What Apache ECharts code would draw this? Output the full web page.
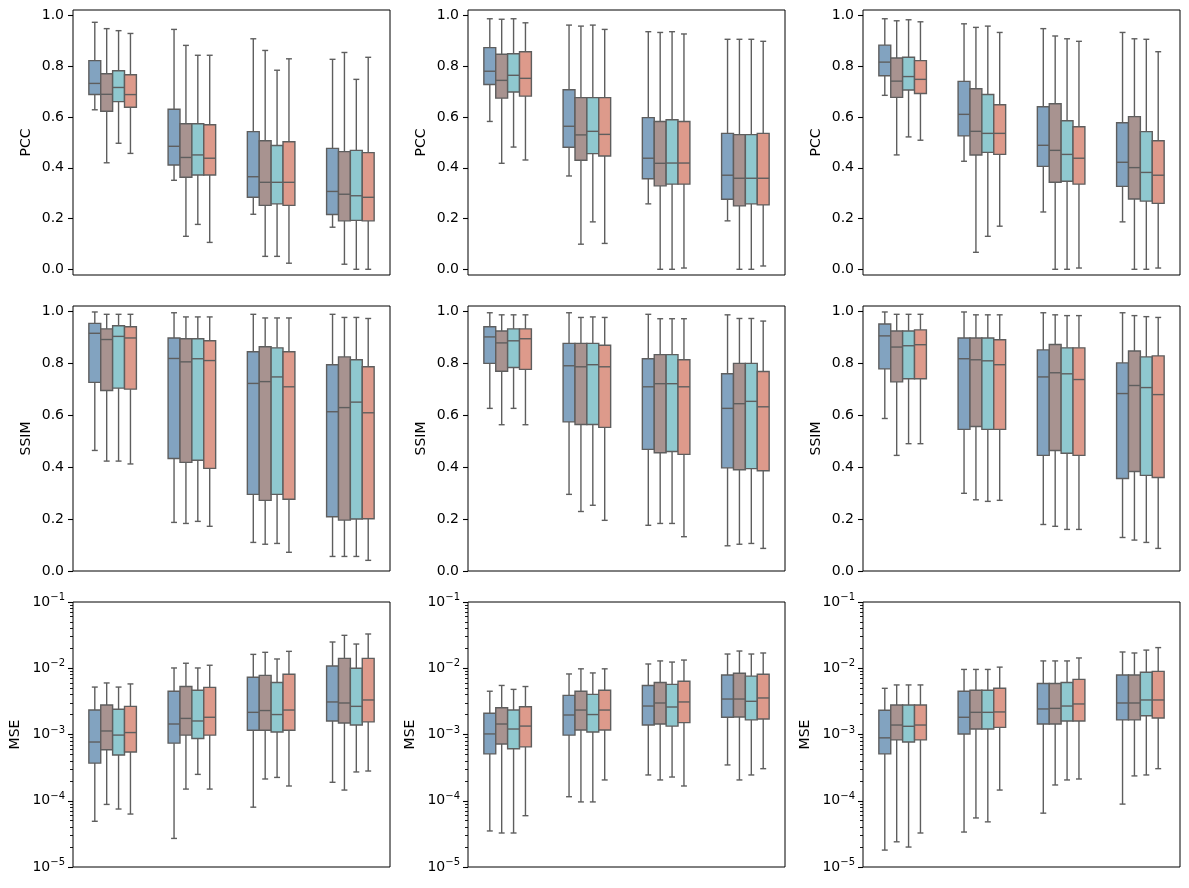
<!DOCTYPE html>
<html>
<head>
<meta charset="utf-8">
<script src="https://cdn.jsdelivr.net/npm/echarts@6/dist/echarts.min.js"></script>
<style>
  html, body { margin: 0; padding: 0; background: #fff; }
  #chart { width: 1189px; height: 888px; }
</style>
</head>
<body>
<div id="chart"></div>
<script>
// categories on x (no labels shown) and the four hue levels
const groups = ['1', '2', '3', '4'];
const hues = ['A', 'B', 'C', 'D'];
const metrics = ['PCC', 'SSIM', 'MSE'];
const hueColors = ['#82a3c0', '#a89390', '#8fc8cf', '#dd9a8b'];

// each panel: one row per hue, one [min, q1, median, q3, max] per group
const pcc1 = [
  [[0.629, 0.689, 0.733, 0.823, 0.974], [0.351, 0.411, 0.485, 0.631, 0.946], [0.217, 0.284, 0.365, 0.543, 0.909], [0.166, 0.216, 0.307, 0.477, 0.828]],
  [[0.420, 0.623, 0.690, 0.771, 0.949], [0.130, 0.363, 0.441, 0.574, 0.883], [0.051, 0.252, 0.343, 0.507, 0.863], [0.020, 0.191, 0.296, 0.464, 0.855]],
  [[0.497, 0.661, 0.717, 0.783, 0.941], [0.177, 0.372, 0.451, 0.574, 0.844], [0.051, 0.258, 0.343, 0.488, 0.785], [0.000, 0.193, 0.290, 0.469, 0.749]],
  [[0.457, 0.639, 0.689, 0.767, 0.930], [0.106, 0.372, 0.438, 0.570, 0.844], [0.024, 0.252, 0.343, 0.503, 0.830], [0.000, 0.191, 0.284, 0.460, 0.836]]
];
const pcc2 = [
  [[0.583, 0.729, 0.781, 0.874, 0.988], [0.368, 0.481, 0.564, 0.708, 0.963], [0.258, 0.357, 0.438, 0.598, 0.937], [0.191, 0.276, 0.371, 0.536, 0.907]],
  [[0.418, 0.675, 0.745, 0.848, 0.986], [0.099, 0.430, 0.530, 0.677, 0.959], [0.000, 0.329, 0.418, 0.583, 0.934], [0.000, 0.250, 0.359, 0.531, 0.907]],
  [[0.482, 0.699, 0.765, 0.850, 0.988], [0.187, 0.456, 0.544, 0.677, 0.963], [0.000, 0.336, 0.419, 0.590, 0.937], [0.000, 0.258, 0.359, 0.531, 0.907]],
  [[0.431, 0.683, 0.753, 0.858, 0.972], [0.102, 0.447, 0.532, 0.677, 0.946], [0.005, 0.336, 0.419, 0.583, 0.928], [0.013, 0.254, 0.359, 0.536, 0.899]]
];
const pcc3 = [
  [[0.686, 0.763, 0.817, 0.884, 0.988], [0.426, 0.526, 0.611, 0.741, 0.968], [0.226, 0.406, 0.489, 0.641, 0.949], [0.187, 0.327, 0.422, 0.578, 0.934]],
  [[0.451, 0.678, 0.742, 0.833, 0.980], [0.067, 0.451, 0.544, 0.712, 0.954], [0.000, 0.343, 0.469, 0.653, 0.920], [0.000, 0.277, 0.401, 0.602, 0.909]],
  [[0.522, 0.707, 0.760, 0.836, 0.984], [0.130, 0.461, 0.536, 0.689, 0.959], [0.000, 0.347, 0.453, 0.586, 0.909], [0.000, 0.269, 0.382, 0.543, 0.907]],
  [[0.509, 0.693, 0.749, 0.823, 0.976], [0.170, 0.453, 0.536, 0.649, 0.934], [0.005, 0.336, 0.438, 0.562, 0.899], [0.005, 0.260, 0.371, 0.507, 0.858]]
];
const ssim1 = [
  [[0.464, 0.726, 0.915, 0.953, 0.997], [0.187, 0.433, 0.818, 0.897, 0.994], [0.110, 0.295, 0.722, 0.844, 0.988], [0.056, 0.209, 0.613, 0.794, 0.988]],
  [[0.423, 0.695, 0.891, 0.932, 0.988], [0.183, 0.418, 0.805, 0.894, 0.978], [0.103, 0.272, 0.729, 0.863, 0.974], [0.056, 0.196, 0.629, 0.824, 0.976]],
  [[0.423, 0.704, 0.903, 0.944, 0.988], [0.191, 0.426, 0.817, 0.894, 0.978], [0.106, 0.295, 0.747, 0.859, 0.974], [0.056, 0.200, 0.650, 0.813, 0.976]],
  [[0.412, 0.700, 0.897, 0.940, 0.988], [0.172, 0.395, 0.810, 0.886, 0.978], [0.072, 0.276, 0.709, 0.844, 0.974], [0.041, 0.201, 0.609, 0.786, 0.972]]
];
const ssim2 = [
  [[0.626, 0.799, 0.901, 0.940, 0.994], [0.295, 0.574, 0.790, 0.876, 0.994], [0.176, 0.468, 0.709, 0.817, 0.988], [0.097, 0.397, 0.626, 0.759, 0.986]],
  [[0.563, 0.769, 0.878, 0.924, 0.986], [0.229, 0.564, 0.786, 0.876, 0.976], [0.183, 0.455, 0.721, 0.833, 0.971], [0.103, 0.390, 0.644, 0.799, 0.972]],
  [[0.626, 0.783, 0.886, 0.932, 0.986], [0.253, 0.564, 0.794, 0.876, 0.978], [0.183, 0.460, 0.721, 0.833, 0.971], [0.106, 0.394, 0.653, 0.799, 0.972]],
  [[0.563, 0.776, 0.894, 0.932, 0.986], [0.195, 0.553, 0.786, 0.869, 0.976], [0.132, 0.449, 0.709, 0.813, 0.971], [0.087, 0.386, 0.632, 0.768, 0.962]]
];
const ssim3 = [
  [[0.587, 0.778, 0.905, 0.951, 0.997], [0.299, 0.545, 0.817, 0.897, 0.997], [0.179, 0.445, 0.747, 0.851, 0.994], [0.129, 0.356, 0.683, 0.801, 0.994]],
  [[0.445, 0.728, 0.862, 0.924, 0.988], [0.274, 0.556, 0.813, 0.897, 0.986], [0.172, 0.464, 0.763, 0.872, 0.986], [0.119, 0.383, 0.714, 0.847, 0.983]],
  [[0.490, 0.740, 0.867, 0.924, 0.988], [0.268, 0.545, 0.809, 0.897, 0.986], [0.160, 0.453, 0.759, 0.859, 0.983], [0.110, 0.368, 0.706, 0.824, 0.979]],
  [[0.490, 0.740, 0.871, 0.928, 0.988], [0.272, 0.545, 0.794, 0.890, 0.986], [0.160, 0.445, 0.737, 0.859, 0.983], [0.087, 0.360, 0.679, 0.828, 0.976]]
];
const mse1 = [
  [[4.9e-5, 3.7e-4, 7.7e-4, 2.34e-3, 5.2e-3], [2.7e-5, 7.4e-4, 1.44e-3, 4.5e-3, 1.01e-2], [8.0e-5, 1.16e-3, 2.16e-3, 7.3e-3, 1.62e-2], [1.9e-4, 1.6e-3, 3.1e-3, 1.08e-2, 2.49e-2]],
  [[8.8e-5, 5.9e-4, 1.13e-3, 2.79e-3, 6.0e-3], [1.5e-4, 9.8e-4, 1.75e-3, 5.3e-3, 1.19e-2], [2.13e-4, 1.16e-3, 2.3e-3, 7.8e-3, 1.74e-2], [1.45e-4, 1.49e-3, 2.99e-3, 1.41e-2, 3.14e-2]],
  [[7.5e-5, 4.9e-4, 9.8e-4, 2.4e-3, 5.2e-3], [2.5e-4, 8.7e-4, 1.6e-3, 4.65e-3, 1.01e-2], [2.25e-4, 1.09e-3, 2.0e-3, 6.1e-3, 1.38e-2], [2.72e-4, 1.39e-3, 2.66e-3, 1.0e-2, 2.32e-2]],
  [[6.3e-5, 5.45e-4, 1.07e-3, 2.66e-3, 5.8e-3], [1.5e-4, 9.8e-4, 1.82e-3, 5.15e-3, 1.11e-2], [1.67e-4, 1.16e-3, 2.34e-3, 8.1e-3, 1.8e-2], [2.81e-4, 1.55e-3, 3.32e-3, 1.41e-2, 3.29e-2]]
];
const mse2 = [
  [[3.5e-5, 5.1e-4, 1.02e-3, 2.09e-3, 4.5e-3], [1.15e-4, 9.8e-4, 1.97e-3, 3.9e-3, 8.2e-3], [2.45e-4, 1.39e-3, 2.69e-3, 5.5e-3, 1.16e-2], [3.47e-4, 1.82e-3, 3.43e-3, 7.9e-3, 1.64e-2]],
  [[3.26e-5, 7.2e-4, 1.44e-3, 2.54e-3, 5.5e-3], [9.6e-5, 1.17e-3, 2.34e-3, 4.5e-3, 9.8e-3], [2.06e-4, 1.44e-3, 2.99e-3, 6.1e-3, 1.29e-2], [2.06e-4, 1.84e-3, 3.43e-3, 8.4e-3, 1.82e-2]],
  [[3.26e-5, 6.1e-4, 1.21e-3, 2.34e-3, 4.8e-3], [9.6e-5, 1.09e-3, 2.0e-3, 4.04e-3, 8.5e-3], [2.28e-4, 1.34e-3, 2.6e-3, 5.7e-3, 1.24e-2], [2.45e-4, 1.66e-3, 3.17e-3, 7.6e-3, 1.64e-2]],
  [[5.95e-5, 6.5e-4, 1.34e-3, 2.63e-3, 5.3e-3], [2.06e-4, 1.17e-3, 2.34e-3, 4.65e-3, 9.8e-3], [1.67e-4, 1.51e-3, 3.1e-3, 6.35e-3, 1.33e-2], [3.05e-4, 1.71e-3, 3.56e-3, 8.1e-3, 1.7e-2]]
];
const mse3 = [
  [[1.8e-5, 5.1e-4, 8.9e-4, 2.32e-3, 4.98e-3], [3.37e-5, 1.02e-3, 1.82e-3, 4.5e-3, 9.6e-3], [6.5e-5, 1.44e-3, 2.43e-3, 5.9e-3, 1.29e-2], [8.9e-5, 1.66e-3, 2.99e-3, 7.9e-3, 1.76e-2]],
  [[2.4e-5, 8.3e-4, 1.39e-3, 2.79e-3, 5.6e-3], [5.5e-5, 1.21e-3, 2.16e-3, 4.65e-3, 9.6e-3], [1.73e-4, 1.44e-3, 2.48e-3, 5.9e-3, 1.29e-2], [2.37e-4, 1.66e-3, 2.99e-3, 7.9e-3, 1.7e-2]],
  [[2.0e-5, 7.7e-4, 1.33e-3, 2.79e-3, 5.6e-3], [4.8e-5, 1.21e-3, 2.16e-3, 4.65e-3, 9.6e-3], [2.06e-4, 1.6e-3, 2.69e-3, 6.1e-3, 1.29e-2], [2.45e-4, 1.92e-3, 3.32e-3, 8.7e-3, 1.88e-2]],
  [[3.26e-5, 8.3e-4, 1.39e-3, 2.79e-3, 5.6e-3], [1.45e-4, 1.28e-3, 2.19e-3, 4.98e-3, 1.04e-2], [2.13e-4, 1.6e-3, 2.89e-3, 6.8e-3, 1.43e-2], [3.05e-4, 1.77e-3, 3.32e-3, 8.98e-3, 2.05e-2]]
];

const panelRows = [[pcc1, pcc2, pcc3], [ssim1, ssim2, ssim3], [mse1, mse2, mse3]];

// tick labels
const linearTicks = [0, 0.2, 0.4, 0.6, 0.8, 1.0];
const logTicks = [1e-5, 1e-4, 1e-3, 1e-2, 1e-1];
const logMinorTicks = [];
for (let e = -5; e < -1; e++) {
  for (let m = 2; m <= 9; m++) logMinorTicks.push(m * Math.pow(10, e));
}

// layout
const lefts = [73, 468, 863];
const tops = [10, 306, 602];
const gridW = 317, gridH = 265;
const BOX_SPAN = 0.6;
const EDGE = '#5e5e5e';
const FONT = 'DejaVu Sans';

const yRange = [
  { min: -0.0225, max: 1.0225 },
  { min: 0, max: 1.02 },
  { min: 1e-5, max: 1e-1 }
];

function supLabel(v) {
  const e = Math.round(Math.log10(v));
  return '{b|10}{s|\u2212' + Math.abs(e) + '}';
}

function makeRender(hue) {
  return function (params, api) {
    const c = api.value(0);
    const p0 = api.coord([c, api.value(3)]);
    const band = api.coord([c + 1, api.value(3)])[0] - p0[0];
    const w = band * BOX_SPAN / hues.length;
    const cx = p0[0] + (hue - (hues.length - 1) / 2) * w;
    const y = i => api.coord([c, api.value(i)])[1];
    const yMin = y(1), yQ1 = y(2), yMed = y(3), yQ3 = y(4), yMax = y(5);
    const ls = { stroke: EDGE, lineWidth: 1.4 };
    return {
      type: 'group',
      children: [
        { type: 'line', shape: { x1: cx, y1: yMin, x2: cx, y2: yQ1 }, style: ls },
        { type: 'line', shape: { x1: cx, y1: yQ3, x2: cx, y2: yMax }, style: ls },
        { type: 'line', shape: { x1: cx - w / 4, y1: yMin, x2: cx + w / 4, y2: yMin }, style: ls },
        { type: 'line', shape: { x1: cx - w / 4, y1: yMax, x2: cx + w / 4, y2: yMax }, style: ls },
        { type: 'rect', shape: { x: cx - w / 2, y: yQ3, width: w, height: yQ1 - yQ3 },
          style: { fill: hueColors[hue], stroke: EDGE, lineWidth: 1.4 } },
        { type: 'line', shape: { x1: cx - w / 2, y1: yMed, x2: cx + w / 2, y2: yMed }, style: ls }
      ]
    };
  };
}

const grid = [], xAxis = [], yAxis = [], series = [];
panelRows.forEach((row, r) => {
  row.forEach((panel, col) => {
    const gi = grid.length;
    grid.push({
      left: lefts[col], top: tops[r], width: gridW, height: gridH,
      show: true, borderColor: '#000', borderWidth: 1, containLabel: false
    });
    xAxis.push({
      type: 'category', gridIndex: gi, data: groups,
      axisLine: { show: false }, axisTick: { show: false },
      axisLabel: { show: false }, splitLine: { show: false }
    });
    const isLog = r === 2;
    const yi = yAxis.length;
    yAxis.push({
      type: isLog ? 'log' : 'value', logBase: 10, gridIndex: gi,
      position: 'left',
      min: yRange[r].min, max: yRange[r].max,
      name: metrics[r], nameLocation: 'middle', nameRotate: 90,
      nameGap: isLog ? 51 : 40,
      nameTextStyle: { color: '#000', fontSize: 14, fontFamily: FONT },
      axisLine: { show: false },
      splitLine: { show: false },
      axisTick: {
        show: true, length: 5, customValues: isLog ? logTicks : linearTicks,
        lineStyle: { color: '#000', width: 1.1 }
      },
      axisLabel: {
        customValues: isLog ? logTicks : linearTicks,
        margin: isLog ? 8 : 9, color: '#000', fontSize: 14, fontFamily: FONT,
        formatter: isLog ? supLabel : (v => v.toFixed(1)),
        rich: {
          b: { fontSize: 14, fontFamily: FONT, color: '#000' },
          s: { fontSize: 10, fontFamily: FONT, color: '#000', padding: [0, 0, 9, 0] }
        }
      }
    });
    if (isLog) {
      // minor ticks at 2..9 x 10^k
      yAxis.push({
        type: 'log', logBase: 10, gridIndex: gi, position: 'left', offset: 0,
        min: yRange[r].min, max: yRange[r].max,
        axisLine: { show: false }, splitLine: { show: false },
        axisLabel: { show: false },
        axisTick: { show: true, length: 3, customValues: logMinorTicks,
          lineStyle: { color: '#000', width: 0.9 } }
      });
    }
    panel.forEach((hueRows, h) => {
      series.push({
        type: 'custom', name: hues[h], xAxisIndex: gi, yAxisIndex: yi,
        renderItem: makeRender(h),
        encode: { x: 0, y: [1, 2, 3, 4, 5] },
        data: hueRows.map((s, g) => [g].concat(s)),
        silent: true, animation: false
      });
    });
  });
});

const chart = echarts.init(document.getElementById('chart'));
chart.setOption({
  animation: false,
  backgroundColor: '#fff',
  grid: grid, xAxis: xAxis, yAxis: yAxis, series: series
});
</script>
</body>
</html>
